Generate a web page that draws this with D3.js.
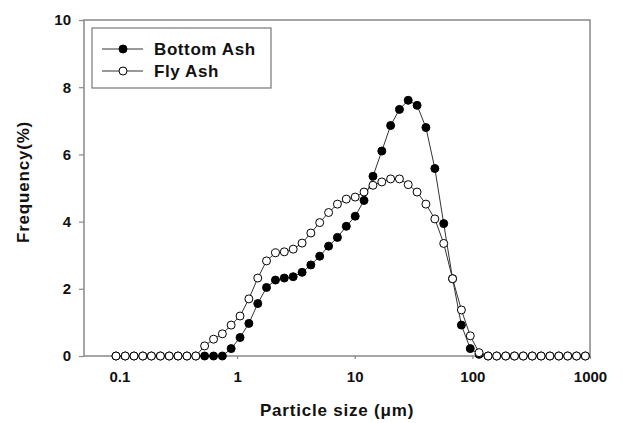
<!DOCTYPE html>
<html>
<head>
<meta charset="utf-8">
<script src="https://cdn.jsdelivr.net/npm/d3@7"></script>
<style>
  body { margin: 0; background: #fff; }
  text { font-family: "Liberation Sans", Arial, sans-serif; font-weight: bold; fill: #111; }
</style>
</head>
<body>
<svg id="chart" width="623" height="423"></svg>
<script>
// particle size classes (um)
var sizes = [0.0935, 0.112, 0.133, 0.158, 0.187, 0.223, 0.265, 0.315, 0.375, 0.446,
  0.530, 0.631, 0.750, 0.891, 1.06, 1.26, 1.50, 1.78, 2.12, 2.52,
  3.00, 3.57, 4.24, 5.04, 6.00, 7.13, 8.48, 10.1, 12.0, 14.3,
  17.0, 20.2, 24.0, 28.5, 33.9, 40.3, 48.0, 57.1, 67.9, 80.7,
  96.0, 114, 136, 161, 192, 228, 271, 323, 384, 456,
  543, 646, 768, 913];

var bottomAsh = [0, 0, 0, 0, 0, 0, 0, 0, 0, 0,
  0, 0, 0, 0.22, 0.55, 0.97, 1.56, 2.04, 2.26, 2.32,
  2.36, 2.49, 2.71, 2.97, 3.27, 3.53, 3.86, 4.16, 4.63, 5.35,
  6.1, 6.86, 7.34, 7.61, 7.46, 6.8, 5.58, 3.94, 2.3, 0.92,
  0.22, 0.05, 0, 0, 0, 0, 0, 0, 0, 0,
  0, 0, 0, 0];

var flyAsh = [0, 0, 0, 0, 0, 0, 0, 0, 0, 0,
  0.3, 0.5, 0.66, 0.92, 1.19, 1.7, 2.32, 2.83, 3.07, 3.1,
  3.18, 3.36, 3.66, 3.97, 4.27, 4.52, 4.67, 4.73, 4.88, 5.08,
  5.18, 5.27, 5.27, 5.1, 4.88, 4.52, 4.08, 3.35, 2.3, 1.37,
  0.6, 0.1, 0, 0, 0, 0, 0, 0, 0, 0,
  0, 0, 0, 0];

var seriesNames = ["Bottom Ash", "Fly Ash"];
var xTicks = [0.1, 1, 10, 100, 1000];
var yTicks = [0, 2, 4, 6, 8, 10];

var svg = d3.select("#chart"),
    margin = {top: 20, right: 33, bottom: 67, left: 84},
    width = +svg.attr("width") - margin.left - margin.right,
    height = +svg.attr("height") - margin.top - margin.bottom;

var x = d3.scaleLog().domain([0.05, 1000]).range([margin.left, margin.left + width]);
var y = d3.scaleLinear().domain([0, 10]).range([margin.top + height, margin.top]);

// axes
var yAxis = svg.append("g")
    .attr("transform", "translate(" + margin.left + ",0)")
    .call(d3.axisLeft(y).tickValues(yTicks).tickSize(5).tickPadding(8));
yAxis.select(".domain").remove();
yAxis.selectAll("line").attr("stroke", "#888").attr("stroke-width", 1.2);
yAxis.selectAll("text").style("font-size", "15px").attr("fill", "#111");

var xAxis = svg.append("g")
    .attr("transform", "translate(0," + (margin.top + height) + ")")
    .call(d3.axisBottom(x).tickValues(xTicks).tickFormat(function(d) { return String(d); }).tickSize(3).tickPadding(12));
xAxis.select(".domain").remove();
xAxis.selectAll("line").attr("stroke", "#888").attr("stroke-width", 1.2);
xAxis.selectAll("text").style("font-size", "15px").attr("fill", "#111");

// frame
svg.append("rect")
    .attr("x", margin.left)
    .attr("y", margin.top)
    .attr("width", width)
    .attr("height", height)
    .attr("fill", "none")
    .attr("stroke", "#888")
    .attr("stroke-width", 1.5);

var line = d3.line()
    .x(function(d) { return x(d[0]); })
    .y(function(d) { return y(d[1]); });

function drawSeries(values, filled) {
  var pts = sizes.map(function(s, i) { return [s, values[i]]; });
  svg.append("path")
      .datum(pts)
      .attr("fill", "none")
      .attr("stroke", "#333")
      .attr("stroke-width", 1)
      .attr("d", line);
  svg.append("g").selectAll("circle")
      .data(pts)
      .enter().append("circle")
      .attr("cx", function(d) { return x(d[0]); })
      .attr("cy", function(d) { return y(d[1]); })
      .attr("r", 4)
      .attr("fill", filled ? "#000" : "#fff")
      .attr("stroke", "#000")
      .attr("stroke-width", 1);
}

drawSeries(bottomAsh, true);
drawSeries(flyAsh, false);

// axis titles
svg.append("text")
    .attr("x", margin.left + width / 2)
    .attr("y", 416)
    .attr("text-anchor", "middle")
    .style("font-size", "17px")
    .style("letter-spacing", "0.8px")
    .text("Particle size (\u03bcm)");

svg.append("text")
    .attr("transform", "translate(29," + (margin.top + height / 2 - 6) + ") rotate(-90)")
    .attr("text-anchor", "middle")
    .style("font-size", "17px")
    .style("letter-spacing", "0.8px")
    .text("Frequency(%)");

// legend
var legend = svg.append("g").attr("transform", "translate(92,28)");
legend.append("rect")
    .attr("width", 179)
    .attr("height", 60)
    .attr("fill", "#fff")
    .attr("stroke", "#777")
    .attr("stroke-width", 1.2);

var rows = legend.selectAll(".row")
    .data(seriesNames)
    .enter().append("g")
    .attr("transform", function(d, i) { return "translate(0," + (21 + i * 22) + ")"; });

rows.append("line")
    .attr("x1", 10).attr("x2", 51)
    .attr("stroke", "#333").attr("stroke-width", 1);
rows.append("circle")
    .attr("cx", 31).attr("r", 4)
    .attr("fill", function(d, i) { return i === 0 ? "#000" : "#fff"; })
    .attr("stroke", "#000");
rows.append("text")
    .attr("x", 62)
    .attr("dy", "0.36em")
    .style("font-size", "17px")
    .style("letter-spacing", "0.6px")
    .text(function(d) { return d; });
</script>
</body>
</html>
